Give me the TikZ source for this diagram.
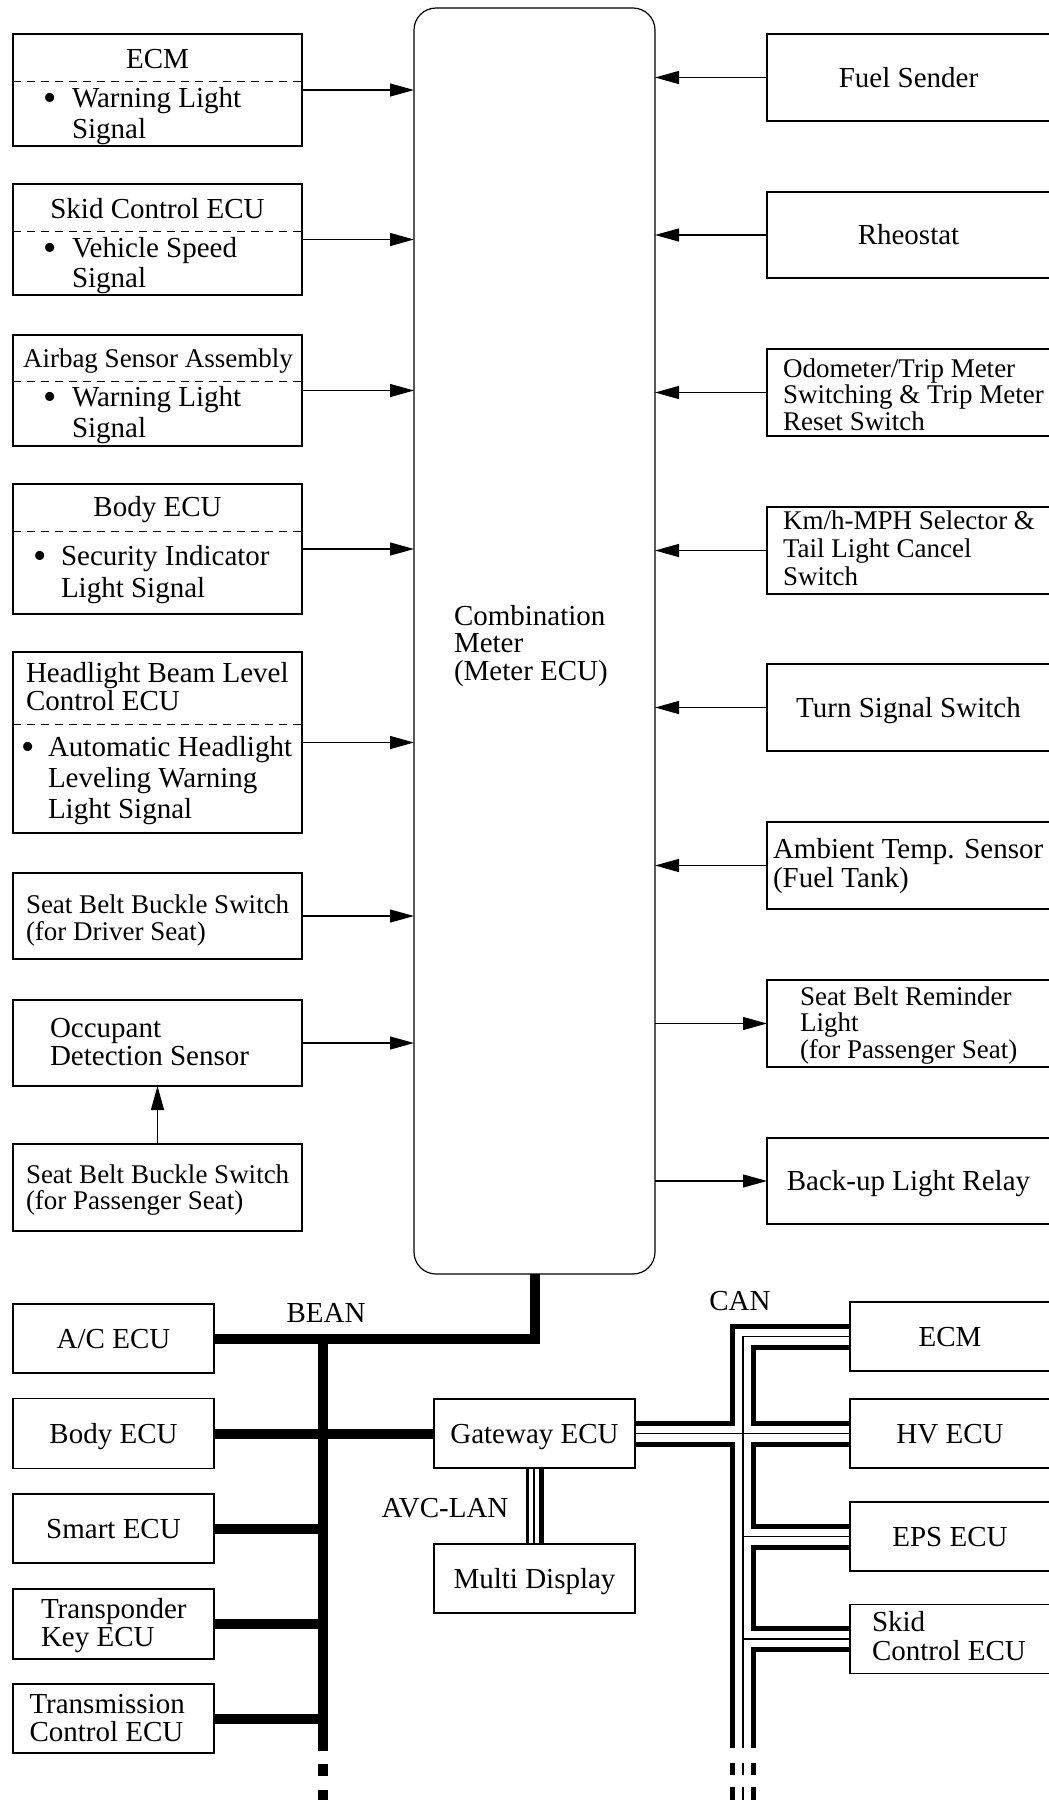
\documentclass[tikz,border=0pt]{standalone}
\usepackage{fontspec}
\setmainfont{Liberation Serif}
\usetikzlibrary{arrows.meta}
\newcommand{\mlines}[1]{\begin{tabular}[t]{@{}l@{}}#1\end{tabular}}
\begin{document}
\begin{tikzpicture}[x=1pt,y=-1pt,
  box/.style={draw, line width=1.2pt, rectangle, inner sep=0pt, outer sep=0pt},
  lbl/.style={font=\fontsize{29}{30}\selectfont, text height=19pt, text depth=0pt},
  tm/.style={inner sep=0pt, outer sep=0pt, font=\fontsize{29}{#1}\selectfont},
  tm/.default=30,
  ts/.style={inner sep=0pt, outer sep=0pt, font=\fontsize{27}{#1}\selectfont},
  ts/.default=27,
  bul/.style={inner sep=0pt, outer sep=0pt, font=\fontsize{38}{38}\selectfont, anchor=base},
  sep/.style={line width=1pt, dash pattern=on 8pt off 6pt},
  arr/.style={line width=1.2pt, -{Triangle[length=24pt,width=13pt]}},
  bean/.style={line width=10pt, line join=miter},
  canthick/.style={line width=5pt, line join=miter},
  canthin/.style={line width=1.2pt},
]
\useasboundingbox (0,0) rectangle (1049,1800);

% ---- Combination meter
\node[box, rounded corners=22pt, minimum width=241pt, minimum height=1266pt] (meter) at (534.5,641) {};
\node[tm=27.5, anchor=base west] (metert) at (454,625) {\mlines{Combination\\Meter\\(Meter ECU)}};

% ---- Left column
\node[box, minimum width=289pt, minimum height=112pt] (ecm) at (157.5,90) {};
\draw[sep] (ecm.west |- 0,81) -- (ecm.east |- 0,81);
\node[tm, anchor=base] (ecmh) at (157.5,68) {ECM};
\node[bul] (ecmb) at (50,110) {\textbullet};
\node[tm=31, anchor=base west] (ecmt) at (72,107) {\mlines{Warning Light\\Signal}};

\node[box, minimum width=289pt, minimum height=111pt] (skid) at (157.5,239.5) {};
\draw[sep] (skid.west |- 0,231) -- (skid.east |- 0,231);
\node[tm, anchor=base] (skidh) at (157.5,218) {Skid Control ECU};
\node[bul] (skidb) at (50,260) {\textbullet};
\node[tm=30, anchor=base west] (skidt) at (72,257) {\mlines{Vehicle Speed\\Signal}};

\node[box, minimum width=289pt, minimum height=111pt] (airbag) at (157.5,390.5) {};
\draw[sep] (airbag.west |- 0,381) -- (airbag.east |- 0,381);
\node[ts, anchor=base] (airbagh) at (158,367) {Airbag Sensor Assembly};
\node[bul] (airbagb) at (50,409) {\textbullet};
\node[tm=31, anchor=base west] (airbagt) at (72,406) {\mlines{Warning Light\\Signal}};

\node[box, minimum width=289pt, minimum height=130pt] (bodyecu) at (157.5,549) {};
\draw[sep] (bodyecu.west |- 0,531) -- (bodyecu.east |- 0,531);
\node[tm, anchor=base] (bodyh) at (157.5,516) {Body ECU};
\node[bul] (bodyb) at (40,568) {\textbullet};
\node[tm=32, anchor=base west] (bodyt) at (61,565) {\mlines{Security Indicator\\Light Signal}};

\node[box, minimum width=289pt, minimum height=181pt] (head) at (157.5,742.5) {};
\draw[sep] (head.west |- 0,724) -- (head.east |- 0,724);
\node[tm=28, anchor=base west] (headh) at (26,682) {\mlines{Headlight Beam Level\\Control ECU}};
\node[bul] (headb) at (28,759) {\textbullet};
\node[tm=31, anchor=base west] (headt) at (48,756) {\mlines{Automatic Headlight\\Leveling Warning\\Light Signal}};

\node[box, minimum width=289pt, minimum height=86pt] (driver) at (157.5,916) {};
\node[ts=27, anchor=base west] (drivert) at (26,913) {\mlines{Seat Belt Buckle Switch\\(for Driver Seat)}};

\node[box, minimum width=289pt, minimum height=86pt] (occ) at (157.5,1043) {};
\node[tm=28, anchor=base west] (occt) at (50,1037) {\mlines{Occupant\\Detection Sensor}};

\node[box, minimum width=289pt, minimum height=87pt] (pass) at (157.5,1187.5) {};
\node[ts=26, anchor=base west] (passt) at (26,1183) {\mlines{Seat Belt Buckle Switch\\(for Passenger Seat)}};

\foreach \n in {ecm,skid,airbag,bodyecu,head,driver,occ}
  \draw[arr] (\n.east) -- (\n.east -| meter.west);
\draw[arr] (pass.north) -- (occ.south);

% ---- Right column
\node[box, lbl, minimum width=283pt, minimum height=87pt] (fuel) at (908.5,77.5) {Fuel Sender};
\node[box, lbl, minimum width=283pt, minimum height=86pt] (rheo) at (908.5,235) {Rheostat};
\node[box, minimum width=283pt, minimum height=87pt] (odo) at (908.5,392.5) {};
\node[ts=26, anchor=base west] (odot) at (783,377) {\mlines{Odometer/Trip Meter\\Switching \& Trip Meter\\Reset Switch}};
\node[box, minimum width=283pt, minimum height=87pt] (kmh) at (908.5,550.5) {};
\node[ts=28, anchor=base west] (kmht) at (783,529) {\mlines{Km/h-MPH Selector \&\\Tail Light Cancel\\Switch}};
\node[box, lbl, minimum width=283pt, minimum height=87pt] (turn) at (908.5,707.5) {Turn Signal Switch};
\node[box, minimum width=283pt, minimum height=87pt] (amb) at (908.5,865.5) {};
\node[tm=29, anchor=base west] (ambt) at (773,858) {\mlines{Ambient Temp. Sensor\\(Fuel Tank)}};
\node[box, minimum width=283pt, minimum height=87pt] (remind) at (908.5,1023.5) {};
\node[ts=26, anchor=base west] (remindt) at (800,1005) {\mlines{Seat Belt Reminder\\Light\\(for Passenger Seat)}};
\node[box, lbl, minimum width=283pt, minimum height=86pt] (backup) at (908.5,1181) {Back-up Light Relay};

\foreach \n in {fuel,rheo,odo,kmh,turn,amb}
  \draw[arr] (\n.west) -- (\n.west -| meter.east);
\foreach \n in {remind,backup}
  \draw[arr] (\n.west -| meter.east) -- (\n.west);

% ---- BEAN side
\node[box, lbl, minimum width=201pt, minimum height=69pt] (ac) at (113.5,1338.5) {A/C ECU};
\node[box, lbl, minimum width=201pt, minimum height=70pt] (body2) at (113.5,1433.5) {Body ECU};
\node[box, lbl, minimum width=201pt, minimum height=69pt] (smart) at (113.5,1528.5) {Smart ECU};
\node[box, minimum width=201pt, minimum height=70pt] (trans) at (113.5,1624) {};
\node[tm=28, anchor=base west] (transt) at (41,1618) {\mlines{Transponder\\Key ECU}};
\node[box, minimum width=201pt, minimum height=69pt] (tcu) at (113.5,1718.5) {};
\node[tm=28, anchor=base west] (tcut) at (29.5,1713) {\mlines{Transmission\\Control ECU}};

\node[box, lbl, minimum width=201pt, minimum height=69pt] (gw) at (534.5,1433.5) {Gateway ECU};
\node[box, lbl, minimum width=201pt, minimum height=69pt] (multi) at (534.5,1578.5) {Multi Display};

\node[tm, anchor=base] (beanl) at (326,1322) {BEAN};
\node[tm, anchor=base] (canl) at (740,1310) {CAN};
\node[tm, anchor=base] (avcl) at (445,1517) {AVC-LAN};

\coordinate (bt) at (323,1334);
\coordinate (bb) at (323,1751);
\coordinate (bd1a) at (323,1764);
\coordinate (bd1b) at (323,1776);
\coordinate (bd2a) at (323,1790);
\coordinate (bd2b) at (323,1805);
\draw[bean] (ac.east) -| (meter.south);
\draw[bean] (body2.east) -- (gw.west);
\draw[bean] (bt) -- (bb);
\draw[bean] (bd1a) -- (bd1b);
\draw[bean] (bd2a) -- (bd2b);
\foreach \n in {smart,trans,tcu}
  \draw[bean] (\n.east) -- (\n.east -| bt);

% AVC-LAN
\draw[line width=3pt] ([xshift=-7.5pt]gw.south) -- ([xshift=-7.5pt]multi.north);
\draw[line width=1.2pt] ([xshift=-0.5pt]gw.south) -- ([xshift=-0.5pt]multi.north);
\draw[line width=4.5pt] ([xshift=7pt]gw.south) -- ([xshift=7pt]multi.north);

% ---- CAN side
\node[box, lbl, minimum width=200pt, minimum height=69pt] (ecm2) at (950,1336.5) {ECM};
\node[box, lbl, minimum width=200pt, minimum height=69pt] (hv) at (950,1433.5) {HV ECU};
\node[box, lbl, minimum width=200pt, minimum height=69pt] (eps) at (950,1536.5) {EPS ECU};
\node[box, minimum width=200pt, minimum height=69pt] (skid2) at (950,1639) {};
\node[tm=29, anchor=base west] (skid2t) at (872,1631) {\mlines{Skid\\Control ECU}};

\coordinate (co) at (732.5,1748);
\coordinate (ct) at (743,1748);
\coordinate (ci) at (753,1748);

\draw[canthick] ([yshift=10.5pt]ecm2.west) -| (732.5,1423) -- ([yshift=10.5pt]gw.east);
\draw[canthick] ([yshift=-10.5pt]gw.east) -| (co);
\draw[canthin] (gw.east) -- (hv.west);
\draw[canthin] (ecm2.west) -| (ct);
\draw[canthin] (eps.west) -- (eps.west -| ct);
\draw[canthin] (skid2.west) -- (skid2.west -| ct);
\draw[canthick] ([yshift=-10.5pt]ecm2.west) -| (753,1423) -- ([yshift=10.5pt]hv.west);
\draw[canthick] ([yshift=-10.5pt]hv.west) -| (753,1526) -- ([yshift=10.5pt]eps.west);
\draw[canthick] ([yshift=-10.5pt]eps.west) -| (753,1628.5) -- ([yshift=10.5pt]skid2.west);
\draw[canthick] ([yshift=-10.5pt]skid2.west) -| (ci);

\foreach \xx/\st in {732.5/canthick,743/canthin,753/canthick}{
  \draw[\st] (\xx,1763) -- (\xx,1775);
  \draw[\st] (\xx,1787) -- (\xx,1805);
}
\end{tikzpicture}
\end{document}
